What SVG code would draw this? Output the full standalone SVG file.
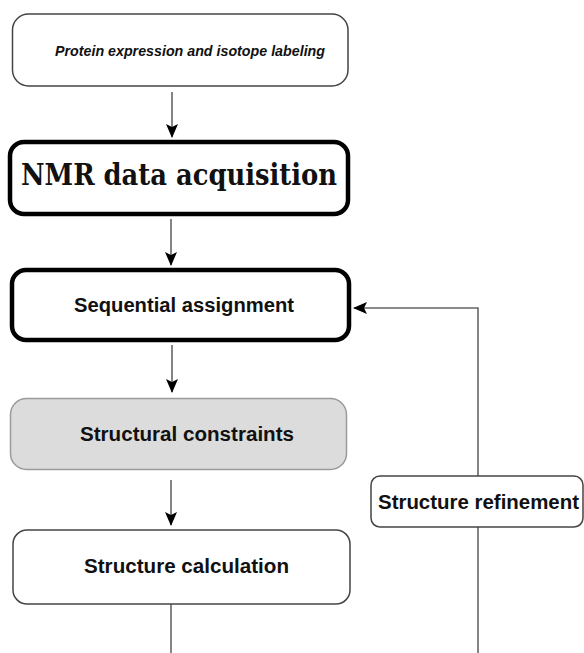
<svg xmlns="http://www.w3.org/2000/svg" width="584" height="653" viewBox="0 0 584 653">
  <defs>
    <marker id="head" viewBox="0 0 14 12" refX="13" refY="6" markerWidth="14" markerHeight="12" markerUnits="userSpaceOnUse" orient="auto">
      <path d="M0,0 L14,6 L0,12 L3,6 Z" fill="#000"/>
    </marker>
    <style>
      .box { fill: #fff; stroke: #444; stroke-width: 1.5; }
      .bold-box { fill: #fff; stroke: #000; stroke-width: 4.5; }
      .grey-box { fill: #dcdcdc; stroke: #9a9a9a; stroke-width: 1.5; }
      .label { font-family: "Liberation Sans", Arial, sans-serif; font-weight: bold; font-size: 20px; fill: #111; }
      .wire { fill: none; stroke: #666; stroke-width: 1.6; }
    </style>
  </defs>
  <rect width="584" height="653" fill="#fff"/>

  <g id="connectors">
    <line class="wire" x1="172" y1="92" x2="172" y2="137" marker-end="url(#head)"/>
    <line class="wire" x1="171" y1="219" x2="171" y2="265" marker-end="url(#head)"/>
    <line class="wire" x1="172" y1="345" x2="172" y2="392" marker-end="url(#head)"/>
    <line class="wire" x1="171" y1="480" x2="171" y2="525" marker-end="url(#head)"/>
    <line class="wire" x1="171" y1="604" x2="171" y2="653"/>
    <polyline class="wire" points="478,476 478,308 354,308" marker-end="url(#head)"/>
    <line class="wire" x1="478" y1="527" x2="478" y2="653"/>
  </g>

  <g id="protein-expression">
    <rect class="box" x="12.5" y="14" width="335.5" height="72" rx="16"/>
    <text x="55" y="56" font-family="'Liberation Sans', Arial, sans-serif" font-weight="bold" font-style="italic" font-size="14" fill="#111" textLength="270" lengthAdjust="spacingAndGlyphs">Protein expression and isotope labeling</text>
  </g>

  <g id="nmr-acquisition">
    <rect class="bold-box" x="10" y="142" width="338" height="72" rx="14" stroke-width="4"/>
    <text x="21" y="185" font-family="'DejaVu Serif', 'Liberation Serif', serif" font-weight="bold" font-size="29" fill="#111" textLength="316" lengthAdjust="spacingAndGlyphs">NMR data acquisition</text>
  </g>

  <g id="sequential-assignment">
    <rect class="bold-box" x="12" y="270" width="337" height="70" rx="14"/>
    <text class="label" x="74" y="312" textLength="220" lengthAdjust="spacingAndGlyphs">Sequential assignment</text>
  </g>

  <g id="structural-constraints">
    <rect class="grey-box" x="10.5" y="398.5" width="336" height="71" rx="16"/>
    <text class="label" x="80" y="441" textLength="214" lengthAdjust="spacingAndGlyphs">Structural constraints</text>
  </g>

  <g id="structure-calculation">
    <rect class="box" x="13" y="530" width="337" height="74" rx="14"/>
    <text class="label" x="84" y="573" textLength="205" lengthAdjust="spacingAndGlyphs">Structure calculation</text>
  </g>

  <g id="structure-refinement">
    <rect class="box" x="371" y="476" width="212" height="51" rx="9"/>
    <text class="label" x="378" y="509" textLength="201" lengthAdjust="spacingAndGlyphs">Structure refinement</text>
  </g>
</svg>
